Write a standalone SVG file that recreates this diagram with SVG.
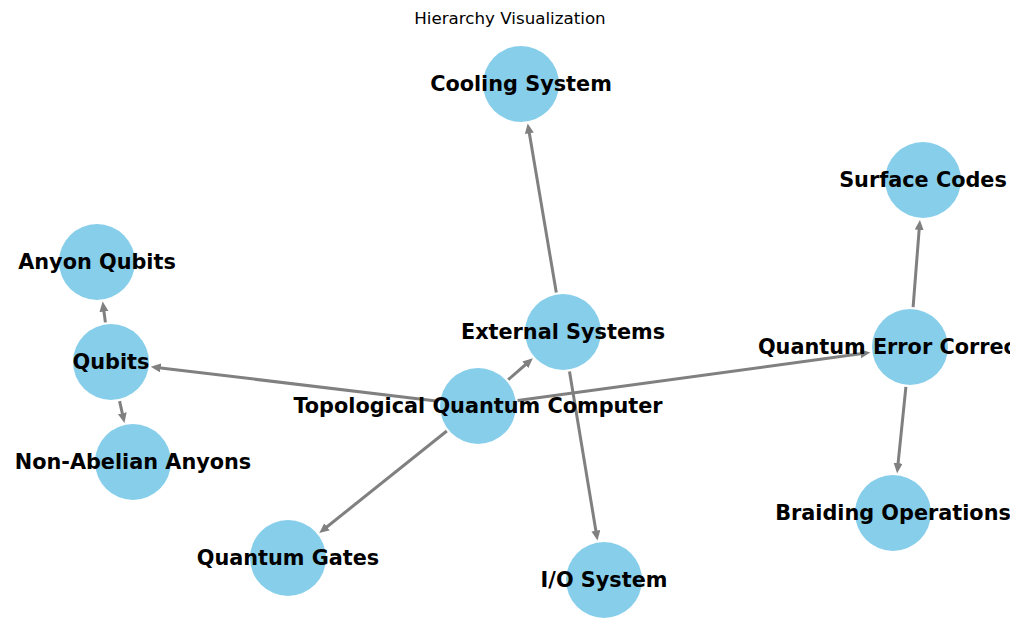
<svg xmlns="http://www.w3.org/2000/svg" width="1019" height="642" viewBox="0 0 1019 642">
<style>
.edge{stroke:#808080;stroke-width:3;fill:none;marker-end:url(#ah)}
.node circle{fill:#87CEEB}
.lbl{font-family:"DejaVu Sans",sans-serif;font-weight:bold;font-size:20.8px;fill:#000;text-anchor:middle}
.title{font-family:"DejaVu Sans",sans-serif;font-size:16.7px;fill:#000;text-anchor:middle}
</style>
<defs>
<marker id="ah" markerUnits="userSpaceOnUse" markerWidth="12" markerHeight="10" refX="2" refY="4.5" orient="auto">
<path d="M0,0 L10,4.5 L0,9 z" fill="#808080"/>
</marker>
<clipPath id="clip"><rect x="0" y="0" width="1010" height="642"/></clipPath>
</defs>
<rect width="1019" height="642" fill="#fff"/>
<text class="title" x="510" y="24">Hierarchy Visualization</text>
<g id="connectors">
<line class="edge" x1="508.2" y1="379.7" x2="526.8" y2="363.5"/>
<line class="edge" x1="438.3" y1="401.2" x2="158.7" y2="367.7"/>
<line class="edge" x1="517.6" y1="400.6" x2="862.4" y2="353.5"/>
<line class="edge" x1="446.8" y1="431" x2="325.5" y2="528"/>
<line class="edge" x1="556.3" y1="292.6" x2="529.0" y2="131.3"/>
<line class="edge" x1="569.5" y1="371.5" x2="596.2" y2="532.7"/>
<line class="edge" x1="105.4" y1="322.4" x2="103.7" y2="309.5"/>
<line class="edge" x1="119.6" y1="401.1" x2="122.7" y2="415.1"/>
<line class="edge" x1="913.1" y1="307.1" x2="919.3" y2="227.9"/>
<line class="edge" x1="905.9" y1="386.8" x2="897.9" y2="465.2"/>
</g>
<g id="n-cooling" class="node"><circle cx="521" cy="84" r="38"/></g>
<g id="n-surface" class="node"><circle cx="923" cy="180" r="38"/></g>
<g id="n-anyon" class="node"><circle cx="97" cy="262" r="38"/></g>
<g id="n-external" class="node"><circle cx="563" cy="332" r="38"/></g>
<g id="n-qubits" class="node"><circle cx="111" cy="362" r="38"/></g>
<g id="n-qec" class="node"><circle cx="910" cy="347" r="38"/></g>
<g id="n-tqc" class="node"><circle cx="478" cy="406" r="38"/></g>
<g id="n-nonabelian" class="node"><circle cx="133" cy="462" r="38"/></g>
<g id="n-braiding" class="node"><circle cx="893" cy="513" r="38"/></g>
<g id="n-gates" class="node"><circle cx="288" cy="558" r="38"/></g>
<g id="n-io" class="node"><circle cx="604" cy="580" r="38"/></g>
<g id="labels" clip-path="url(#clip)">
<text class="lbl" x="521" y="90.5">Cooling System</text>
<text class="lbl" x="923" y="186.5">Surface Codes</text>
<text class="lbl" x="97" y="268.5">Anyon Qubits</text>
<text class="lbl" x="563" y="338.5">External Systems</text>
<text class="lbl" x="111" y="368.5">Qubits</text>
<text class="lbl" x="910" y="353.5">Quantum Error Correction</text>
<text class="lbl" x="478" y="412.5">Topological Quantum Computer</text>
<text class="lbl" x="133" y="468.5">Non-Abelian Anyons</text>
<text class="lbl" x="893" y="519.5">Braiding Operations</text>
<text class="lbl" x="288" y="564.5">Quantum Gates</text>
<text class="lbl" x="604" y="586.5">I/O System</text>
</g>
</svg>
